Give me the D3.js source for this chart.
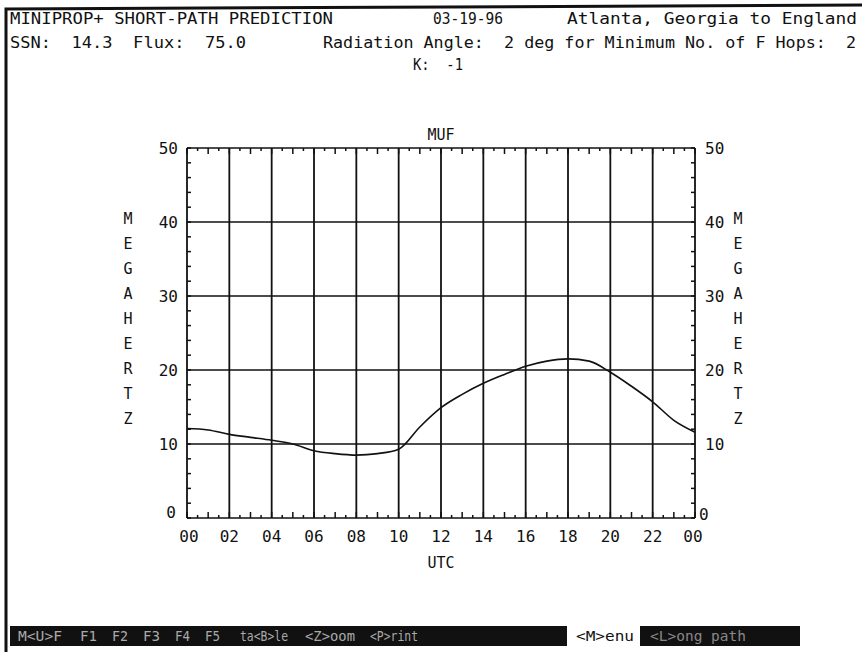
<!DOCTYPE html>
<html>
<head>
<meta charset="utf-8">
<script src="https://cdnjs.cloudflare.com/ajax/libs/d3/7.8.5/d3.min.js"></script>
<style>
  body { margin: 0; background: #fff; }
  svg { display: block; }
  text { font-family: "DejaVu Sans Mono", monospace; fill: #111; white-space: pre; }
</style>
</head>
<body>
<svg width="865" height="656"></svg>
<script>
// MUF curve, one value per UTC hour (0..24)
const hours = d3.range(0, 25);
const muf = [12.1, 11.9, 11.3, 10.9, 10.5, 10.0, 9.1, 8.7, 8.5, 8.7, 9.3, 12.3, 14.9,
  16.7, 18.2, 19.4, 20.5, 21.2, 21.5, 21.2, 19.7, 17.8, 15.7, 13.2, 11.6];
const xTickHours = d3.range(0, 25, 2);
const xTickLabels = ["00", "02", "04", "06", "08", "10", "12", "14", "16", "18", "20", "22", "00"];
const yTicks = [0, 10, 20, 30, 40, 50];
const menuItems = ["M<U>F", "F1", "F2", "F3", "F4", "F5", "ta<B>le", "<Z>oom", "<P>rint"];
const menuX = [18, 80, 112, 143, 175, 205, 240, 305, 370];
const menuW = [44, 17, 16, 17, 15, 15, 48, 50, 48];

const svg = d3.select("svg");

const x = d3.scaleLinear().domain([0, 24]).range([187, 695]);
const y = d3.scaleLinear().domain([0, 50]).range([518, 148]);

// screen frame
svg.append("path")
  .attr("d", "M6,652 L6,9 L862,5")
  .attr("fill", "none").attr("stroke", "#111").attr("stroke-width", 3);

// header text
function label(str, x0, yy, len, size) {
  const t = svg.append("text").attr("x", x0).attr("y", yy)
    .attr("font-size", size || 15).text(str);
  if (len) t.attr("textLength", len).attr("lengthAdjust", "spacingAndGlyphs");
  return t;
}
label("MINIPROP+ SHORT-PATH PREDICTION", 10, 24, 323);
label("03-19-96", 433, 24, 70);
label("Atlanta, Georgia to England", 567, 24, 290);
label("SSN:  14.3  Flux:  75.0", 10, 48, 236);
label("Radiation Angle:  2 deg for Minimum No. of F Hops:  2", 323, 48, 533);
label("K:  -1", 413, 70, 50);

// grid
const g = svg.append("g");
g.selectAll("line.vg").data(xTickHours).enter().append("line")
  .attr("class", "vg")
  .attr("x1", d => x(d)).attr("x2", d => x(d))
  .attr("y1", y(50)).attr("y2", y(0))
  .attr("stroke", "#111").attr("stroke-width", 1.8);
g.selectAll("line.hg").data(yTicks).enter().append("line")
  .attr("class", "hg")
  .attr("x1", x(0)).attr("x2", x(24))
  .attr("y1", d => y(d)).attr("y2", d => y(d))
  .attr("stroke", "#111").attr("stroke-width", 1.6);

// minor ticks
const halfHours = d3.range(0, 24.01, 0.5);
g.selectAll("line.tt").data(halfHours).enter().append("line")
  .attr("x1", d => x(d)).attr("x2", d => x(d))
  .attr("y1", y(50)).attr("y2", d => y(50) + (d % 1 === 0 ? 6 : 3))
  .attr("stroke", "#111").attr("stroke-width", 1.5);
g.selectAll("line.bt").data(halfHours).enter().append("line")
  .attr("x1", d => x(d)).attr("x2", d => x(d))
  .attr("y1", y(0)).attr("y2", d => y(0) - (d % 1 === 0 ? 6 : 3))
  .attr("stroke", "#111").attr("stroke-width", 1.5);
const vTicks = d3.range(0, 50.1, 2);
g.selectAll("line.lt").data(vTicks).enter().append("line")
  .attr("x1", x(0)).attr("x2", x(0) + 4)
  .attr("y1", d => y(d)).attr("y2", d => y(d))
  .attr("stroke", "#111").attr("stroke-width", 1.5);
g.selectAll("line.rt").data(vTicks).enter().append("line")
  .attr("x1", x(24)).attr("x2", x(24) - 4)
  .attr("y1", d => y(d)).attr("y2", d => y(d))
  .attr("stroke", "#111").attr("stroke-width", 1.5);

// axis labels
svg.selectAll("text.yl").data(yTicks).enter().append("text")
  .attr("x", d => d === 0 ? 176 : 178).attr("y", d => y(d) + (d === 0 ? 0 : 6))
  .attr("text-anchor", "end").attr("font-size", 16).text(d => d);
svg.selectAll("text.yr").data(yTicks).enter().append("text")
  .attr("x", d => d === 0 ? 699 : 705).attr("y", d => y(d) + (d === 0 ? 2 : 6))
  .attr("font-size", 16).text(d => d);
svg.selectAll("text.xl").data(xTickHours).enter().append("text")
  .attr("x", (d, i) => x(d) + (i === 0 ? 2 : i === 12 ? -2 : 0)).attr("y", 542)
  .attr("text-anchor", "middle").attr("font-size", 16)
  .text((d, i) => xTickLabels[i]);

svg.append("text").attr("x", x(12)).attr("y", 140).attr("text-anchor", "middle")
  .attr("font-size", 15).text("MUF");
svg.append("text").attr("x", x(12)).attr("y", 568).attr("text-anchor", "middle")
  .attr("font-size", 15).text("UTC");

const letters = "MEGAHERTZ".split("");
[128, 738].forEach(cx => {
  svg.selectAll(null).data(letters).enter().append("text")
    .attr("x", cx).attr("y", (d, i) => 224 + i * 25)
    .attr("text-anchor", "middle").attr("font-size", 15).text(d => d);
});

// curve
const line = d3.line().x((d, i) => x(hours[i])).y(d => y(d)).curve(d3.curveMonotoneX);
svg.append("path").datum(muf).attr("d", line)
  .attr("fill", "none").attr("stroke", "#111").attr("stroke-width", 1.6);

// menu bar
svg.append("rect").attr("x", 10).attr("y", 626).attr("width", 557).attr("height", 20).attr("fill", "#111");
svg.append("rect").attr("x", 640).attr("y", 626).attr("width", 160).attr("height", 20).attr("fill", "#111");
svg.selectAll("text.menu").data(menuItems).enter().append("text")
  .attr("x", (d, i) => menuX[i]).attr("y", 641)
  .attr("textLength", (d, i) => menuW[i]).attr("lengthAdjust", "spacingAndGlyphs")
  .attr("font-size", 14).style("fill", "#aaa").text(d => d);
svg.append("text").attr("x", 576).attr("y", 641).attr("font-size", 14)
  .attr("textLength", 58).attr("lengthAdjust", "spacingAndGlyphs").text("<M>enu");
svg.append("text").attr("x", 650).attr("y", 641).attr("font-size", 14)
  .attr("textLength", 96).attr("lengthAdjust", "spacingAndGlyphs")
  .style("fill", "#888").text("<L>ong path");
</script>
</body>
</html>
